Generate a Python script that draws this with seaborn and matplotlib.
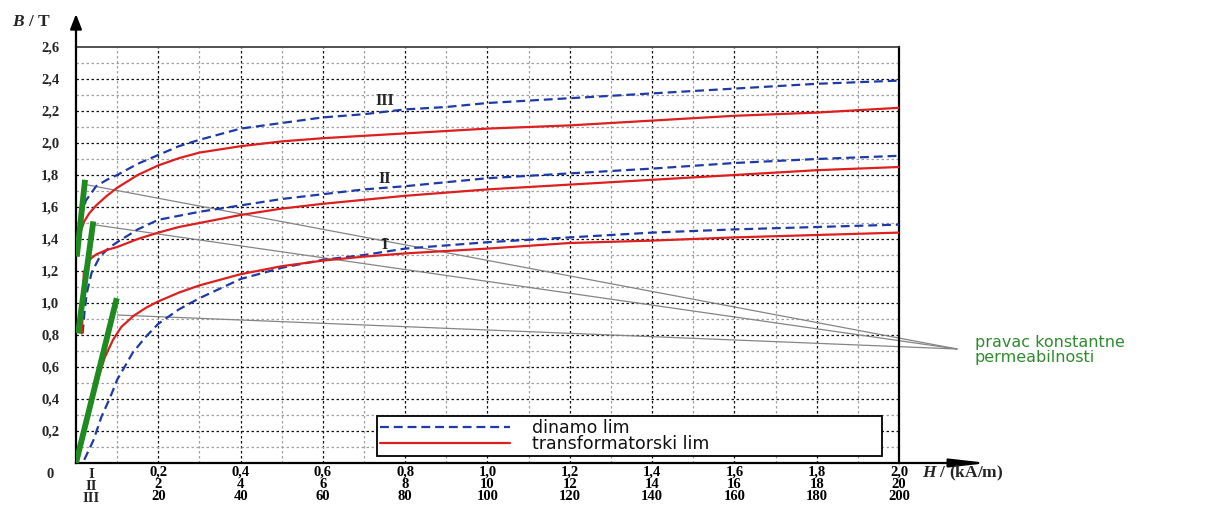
import numpy as np
import pandas as pd
import matplotlib
matplotlib.use("Agg")
import matplotlib.pyplot as plt
import seaborn as sns

# ---------------- data ----------------
# Curve I: H in kA/m on scale I (0..2), curve II on scale II (0..20), curve III on scale III (0..200)
scale_factor = {"I": 1, "II": 10, "III": 100}

dinamo_I_H = [0.02, 0.042, 0.062, 0.083, 0.1, 0.138, 0.17, 0.2, 0.25, 0.3, 0.4, 0.5, 0.6, 0.7, 0.8, 0.9, 1.0, 1.2, 1.4, 1.6, 1.8, 2.0]
dinamo_I_B = [0.02, 0.14, 0.29, 0.41, 0.52, 0.69, 0.79, 0.87, 0.96, 1.03, 1.15, 1.22, 1.27, 1.30, 1.34, 1.36, 1.38, 1.41, 1.44, 1.46, 1.475, 1.49]
trafo_I_H = [0.003, 0.026, 0.05, 0.07, 0.09, 0.11, 0.14, 0.17, 0.2, 0.25, 0.3, 0.4, 0.5, 0.6, 0.7, 0.8, 0.9, 1.0, 1.2, 1.4, 1.6, 1.8, 2.0]
trafo_I_B = [0.03, 0.28, 0.50, 0.66, 0.77, 0.85, 0.92, 0.97, 1.01, 1.065, 1.11, 1.18, 1.23, 1.265, 1.29, 1.31, 1.325, 1.34, 1.375, 1.39, 1.41, 1.425, 1.44]

dinamo_II_H = [0.16, 0.21, 0.26, 0.38, 0.58, 0.8, 1, 1.5, 2, 2.5, 3, 4, 5, 6, 7, 8, 9, 10, 12, 14, 16, 18, 20]
dinamo_II_B = [0.81, 0.95, 1.06, 1.19, 1.29, 1.345, 1.38, 1.46, 1.52, 1.545, 1.57, 1.61, 1.65, 1.68, 1.71, 1.73, 1.755, 1.78, 1.81, 1.84, 1.875, 1.90, 1.92]
trafo_II_H = [0.14, 0.17, 0.19, 0.32, 0.5, 0.73, 1, 1.5, 2, 2.5, 3, 4, 5, 6, 7, 8, 9, 10, 12, 14, 16, 18, 20]
trafo_II_B = [0.81, 0.98, 1.19, 1.27, 1.305, 1.33, 1.35, 1.40, 1.44, 1.475, 1.50, 1.55, 1.59, 1.62, 1.645, 1.67, 1.69, 1.71, 1.74, 1.77, 1.80, 1.83, 1.85]

dinamo_III_H = [0.8, 1.5, 2.4, 4.9, 7.5, 10, 15, 20, 25, 30, 40, 50, 60, 70, 80, 90, 100, 120, 140, 160, 180, 200]
dinamo_III_B = [1.45, 1.56, 1.64, 1.73, 1.77, 1.80, 1.87, 1.925, 1.98, 2.02, 2.09, 2.125, 2.16, 2.18, 2.21, 2.225, 2.25, 2.28, 2.31, 2.34, 2.37, 2.39]
trafo_III_H = [1.2, 2.0, 3.2, 4.9, 7.5, 10, 15, 20, 25, 30, 40, 50, 60, 70, 80, 90, 100, 120, 140, 160, 180, 200]
trafo_III_B = [1.45, 1.51, 1.56, 1.61, 1.67, 1.72, 1.80, 1.86, 1.905, 1.94, 1.98, 2.01, 2.03, 2.045, 2.06, 2.075, 2.09, 2.11, 2.14, 2.17, 2.19, 2.22]

# constant-permeability lines (in scale-I axis units)
perm_I_H, perm_I_B = [0.0, 0.099], [0.0, 1.03]
perm_II_H, perm_II_B = [0.005, 0.042], [0.81, 1.51]
perm_III_H, perm_III_B = [0.002, 0.022], [1.29, 1.77]
# pointer lines from the label to the three permeability lines
pointer_start_H = [0.100, 0.041, 0.024]
pointer_start_B = [0.925, 1.49, 1.74]
pointer_end = (2.141, 0.7125)

# tick labels
x_ticks_I = ["0,2", "0,4", "0,6", "0,8", "1,0", "1,2", "1,4", "1,6", "1,8", "2,0"]
x_ticks_II = ["2", "4", "6", "8", "10", "12", "14", "16", "18", "20"]
x_ticks_III = ["20", "40", "60", "80", "100", "120", "140", "160", "180", "200"]
y_tick_labels = ["0,2", "0,4", "0,6", "0,8", "1,0", "1,2", "1,4", "1,6", "1,8", "2,0", "2,2", "2,4", "2,6"]
curve_labels = ["I", "II", "III"]
curve_label_pos_B = [1.36, 1.775, 2.26]

# ---------------- build table ----------------
rows = []
series = [
    ("I", "dinamo lim", dinamo_I_H, dinamo_I_B),
    ("I", "transformatorski lim", trafo_I_H, trafo_I_B),
    ("II", "dinamo lim", dinamo_II_H, dinamo_II_B),
    ("II", "transformatorski lim", trafo_II_H, trafo_II_B),
    ("III", "dinamo lim", dinamo_III_H, dinamo_III_B),
    ("III", "transformatorski lim", trafo_III_H, trafo_III_B),
]
for curve, mat, hs, bs in series:
    for h, b in zip(hs, bs):
        rows.append({"curve": curve + mat, "material": mat, "H": h / scale_factor[curve], "B": b})
df = pd.DataFrame(rows)

# ---------------- style ----------------
sns.set_style("white")
plt.rcParams["font.family"] = ["DejaVu Sans"]
plt.rcParams["mathtext.fontset"] = "custom"
plt.rcParams["mathtext.it"] = "Liberation Serif:italic:bold"
plt.rcParams["mathtext.rm"] = "Liberation Serif:bold"

W, H = 1208, 507
fig = plt.figure(figsize=(W / 100, H / 100), dpi=100)
x0, x1, y0, y1 = 76, 899, 47, 463
ax = fig.add_axes([x0 / W, 1 - y1 / H, (x1 - x0) / W, (y1 - y0) / H])

# grid every 0.1 (even ones darker)
for k in range(1, 20):
    ax.axvline(k * 0.1, color="#111111" if k % 2 == 0 else "#a0a0a0",
               ls=(0, (2.0, 2.0)), lw=0.9, zorder=0)
for k in range(1, 26):
    ax.axhline(k * 0.1, color="#111111" if k % 2 == 0 else "#a0a0a0",
               ls=(0, (2.0, 2.0)), lw=0.9, zorder=0)

palette = {"dinamo lim": "#1f3aa8", "transformatorski lim": "#dd1f1f"}
dashes = {"dinamo lim": (4, 2.2), "transformatorski lim": ""}
sns.lineplot(data=df, x="H", y="B", hue="material", style="material", units="curve",
             estimator=None, sort=False, palette=palette, dashes=dashes,
             linewidth=1.6, ax=ax, zorder=3)

for hs, bs in [(perm_I_H, perm_I_B), (perm_II_H, perm_II_B), (perm_III_H, perm_III_B)]:
    ax.plot(hs, bs, color="#1f8a1f", lw=4.2, solid_capstyle="butt", zorder=4)

for hs, bs in zip(pointer_start_H, pointer_start_B):
    ax.plot([hs, pointer_end[0]], [bs, pointer_end[1]], color="#858585", lw=0.9,
            clip_on=False, zorder=2)

ax.set_xlim(0, 2.0)
ax.set_ylim(0, 2.6)
ax.set_xlabel("")
ax.set_ylabel("")

# ticks
xt = [k * 0.1 for k in range(1, 21)]
xl = []
for k in range(1, 21):
    if k % 2 == 0:
        i = k // 2 - 1
        xl.append(f"{x_ticks_I[i]}\n{x_ticks_II[i]}\n{x_ticks_III[i]}")
    else:
        xl.append("")
ax.set_xticks(xt)
ax.set_xticklabels(xl, fontfamily="Liberation Serif", fontweight="bold", fontsize=10.5,
                   linespacing=0.92)
ax.set_xticks(np.arange(0, 2.001, 0.02), minor=True)
yt = [k * 0.1 for k in range(1, 27)]
yl = []
for k in range(1, 27):
    yl.append(y_tick_labels[k // 2 - 1] if k % 2 == 0 else "")
ax.set_yticks(yt)
ax.set_yticklabels(yl, fontfamily="Liberation Serif", fontweight="bold", fontsize=10.5)
ax.set_yticks(np.arange(0, 2.601, 0.02), minor=True)
ax.tick_params(axis="x", which="major", direction="in", length=5, width=1, pad=2, colors="black")
ax.tick_params(axis="x", which="minor", direction="in", length=2.5, width=0.8)
ax.tick_params(axis="y", which="major", direction="out", length=6, width=1, pad=6)
ax.tick_params(axis="y", which="minor", direction="out", length=4, width=0.8)

for s in ["left", "bottom", "right"]:
    ax.spines[s].set_color("black")
    ax.spines[s].set_linewidth(1.6)
ax.spines["top"].set_color("#333333")
ax.spines["top"].set_linewidth(1.2)

# axis arrows
ax.annotate("", xy=(0, (y1 - 14) / (y1 - y0)), xytext=(0, 1), xycoords="axes fraction",
            arrowprops=dict(arrowstyle="-|>,head_length=0.9,head_width=0.35", color="black",
                            lw=1.6, shrinkA=0, shrinkB=0), annotation_clip=False)
ax.annotate("", xy=((988 - x0) / (x1 - x0), 0), xytext=(1, 0), xycoords="axes fraction",
            arrowprops=dict(arrowstyle="-|>,head_length=2.2,head_width=0.25", color="black",
                            lw=1.6, shrinkA=0, shrinkB=0), annotation_clip=False)

# curve labels
for lab, b in zip(curve_labels, curve_label_pos_B):
    ax.text(0.75, b, lab, ha="center", va="center", fontfamily="Liberation Serif",
            fontweight="bold", fontsize=11.5, zorder=5)

# legend
lx0 = (377 - x0) / (x1 - x0)
lx1 = (882 - x0) / (x1 - x0)
sns.move_legend(ax, loc="lower left",
                bbox_to_anchor=(lx0, 0.018, lx1 - lx0, (463 - 424) / (y1 - y0) - 0.018),
                mode="expand", title=None, frameon=True, fancybox=False, framealpha=1,
                edgecolor="black", fontsize=12.5, handlelength=7.5, handletextpad=1.3,
                labelspacing=-0.1, borderpad=0.15, borderaxespad=0)
leg = ax.get_legend()
leg.get_frame().set_linewidth(1.3)
for t in leg.get_texts():
    t.set_color("#111111")

# outer texts
fig.text(91 / W, 1 - 468 / H, "I\nII\nIII", ha="center", va="top", fontfamily="Liberation Serif",
         fontweight="bold", fontsize=10.5, linespacing=0.92)
fig.text(50 / W, 1 - 475 / H, "0", ha="center", va="center", fontfamily="Liberation Serif",
         fontweight="bold", fontsize=10.5)
fig.text(12 / W, 1 - 22 / H, r"$B$ / T", ha="left", va="center", fontfamily="Liberation Serif",
         fontweight="bold", fontsize=12.5)
fig.text(922 / W, 1 - 473 / H, r"$H$ / (kA/m)", ha="left", va="center",
         fontfamily="Liberation Serif", fontweight="bold", fontsize=12.5)
fig.text(975 / W, 1 - 335 / H, "pravac konstantne\npermeabilnosti", ha="left", va="top",
         color="#2e8b2e", fontsize=11.5, linespacing=1.0)

fig.savefig("out.png", dpi=100, facecolor="white")
